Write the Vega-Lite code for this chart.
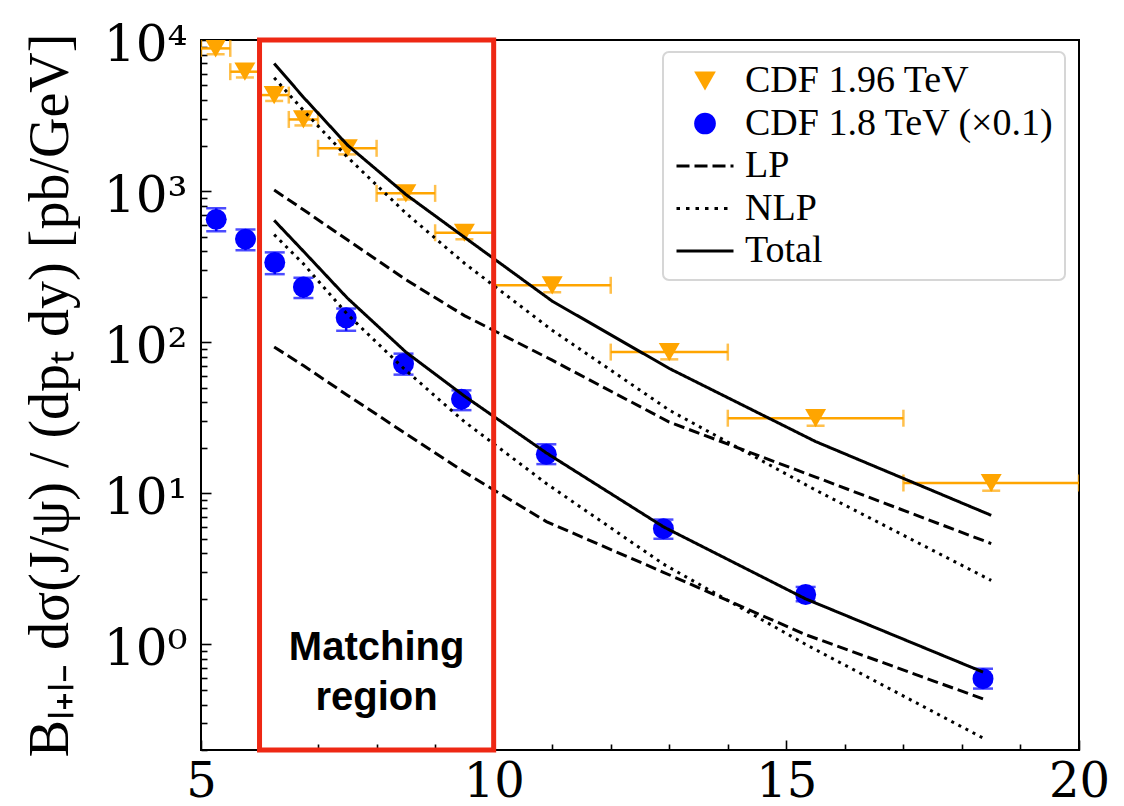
{
  "$schema": "https://vega.github.io/schema/vega-lite/v6.json",
  "width": 878,
  "height": 710,
  "autosize": {"type": "none"},
  "padding": {"left": 201, "top": 40, "right": 45, "bottom": 56},
  "background": "white",
  "config": {
    "view": {"stroke": "black", "strokeWidth": 2},
    "axis": {
      "domain": false,
      "grid": false,
      "labelFont": "DejaVu Serif",
      "labelFontSize": 50,
      "labelColor": "black",
      "labelFlush": false,
      "tickColor": "black",
      "tickWidth": 1.6,
      "titleFont": "Liberation Serif",
      "titleFontWeight": "normal",
      "titleColor": "black"
    },
    "legend": {"strokeWidth": 2}
  },
  "datasets": {
    "cdf196": [
      {"pt": 5.25, "lo": 5.0, "hi": 5.5, "v": 8800, "vlo": 8050, "vhi": 9550},
      {"pt": 5.75, "lo": 5.5, "hi": 6.0, "v": 6170, "vlo": 5650, "vhi": 6700},
      {"pt": 6.25, "lo": 6.0, "hi": 6.5, "v": 4320, "vlo": 3950, "vhi": 4700},
      {"pt": 6.75, "lo": 6.5, "hi": 7.0, "v": 2980, "vlo": 2720, "vhi": 3250},
      {"pt": 7.5, "lo": 7.0, "hi": 8.0, "v": 1920, "vlo": 1750, "vhi": 2100},
      {"pt": 8.5, "lo": 8.0, "hi": 9.0, "v": 966, "vlo": 880, "vhi": 1055},
      {"pt": 9.5, "lo": 9.0, "hi": 10.0, "v": 530, "vlo": 480, "vhi": 580},
      {"pt": 11.0, "lo": 10.0, "hi": 12.0, "v": 238, "vlo": 214, "vhi": 262},
      {"pt": 13.0, "lo": 12.0, "hi": 14.0, "v": 86, "vlo": 77, "vhi": 95},
      {"pt": 15.5, "lo": 14.0, "hi": 17.0, "v": 31.4, "vlo": 28, "vhi": 35},
      {"pt": 18.5, "lo": 17.0, "hi": 20.0, "v": 11.7, "vlo": 10.4, "vhi": 13.0}
    ],
    "cdf18": [
      {"pt": 5.26, "v": 650, "vlo": 543, "vhi": 769},
      {"pt": 5.76, "v": 481, "vlo": 406, "vhi": 557},
      {"pt": 6.26, "v": 337, "vlo": 282, "vhi": 393},
      {"pt": 6.75, "v": 232, "vlo": 196, "vhi": 267},
      {"pt": 7.48, "v": 145, "vlo": 119, "vhi": 167},
      {"pt": 8.46, "v": 72, "vlo": 61, "vhi": 84},
      {"pt": 9.45, "v": 42, "vlo": 35.5, "vhi": 48},
      {"pt": 10.9, "v": 18.1, "vlo": 15.6, "vhi": 21.1},
      {"pt": 12.9, "v": 5.83, "vlo": 5.0, "vhi": 6.7},
      {"pt": 15.33, "v": 2.14, "vlo": 1.93, "vhi": 2.4},
      {"pt": 18.36, "v": 0.593, "vlo": 0.51, "vhi": 0.69}
    ],
    "curves": [
      {"set": "1.96", "kind": "Total", "pt": 6.25, "v": 7000},
      {"set": "1.96", "kind": "Total", "pt": 6.75, "v": 4180},
      {"set": "1.96", "kind": "Total", "pt": 7.5, "v": 2020},
      {"set": "1.96", "kind": "Total", "pt": 8.5, "v": 950},
      {"set": "1.96", "kind": "Total", "pt": 9.5, "v": 495},
      {"set": "1.96", "kind": "Total", "pt": 11.0, "v": 187},
      {"set": "1.96", "kind": "Total", "pt": 13.0, "v": 67},
      {"set": "1.96", "kind": "Total", "pt": 15.5, "v": 22},
      {"set": "1.96", "kind": "Total", "pt": 18.5, "v": 7.15},
      {"set": "1.96", "kind": "NLP", "pt": 6.25, "v": 5620},
      {"set": "1.96", "kind": "NLP", "pt": 6.75, "v": 3420},
      {"set": "1.96", "kind": "NLP", "pt": 7.5, "v": 1680},
      {"set": "1.96", "kind": "NLP", "pt": 8.5, "v": 715},
      {"set": "1.96", "kind": "NLP", "pt": 9.5, "v": 333},
      {"set": "1.96", "kind": "NLP", "pt": 11.0, "v": 120},
      {"set": "1.96", "kind": "NLP", "pt": 13.0, "v": 35.5},
      {"set": "1.96", "kind": "NLP", "pt": 15.5, "v": 10.5},
      {"set": "1.96", "kind": "NLP", "pt": 18.5, "v": 2.65},
      {"set": "1.96", "kind": "LP", "pt": 6.25, "v": 1016},
      {"set": "1.96", "kind": "LP", "pt": 6.75, "v": 753},
      {"set": "1.96", "kind": "LP", "pt": 7.5, "v": 476},
      {"set": "1.96", "kind": "LP", "pt": 8.5, "v": 259},
      {"set": "1.96", "kind": "LP", "pt": 9.5, "v": 150},
      {"set": "1.96", "kind": "LP", "pt": 11.0, "v": 76},
      {"set": "1.96", "kind": "LP", "pt": 13.0, "v": 29.6},
      {"set": "1.96", "kind": "LP", "pt": 15.5, "v": 12.8},
      {"set": "1.96", "kind": "LP", "pt": 18.5, "v": 4.65},
      {"set": "1.8", "kind": "Total", "pt": 6.25, "v": 640},
      {"set": "1.8", "kind": "Total", "pt": 6.75, "v": 400},
      {"set": "1.8", "kind": "Total", "pt": 7.5, "v": 196},
      {"set": "1.8", "kind": "Total", "pt": 8.5, "v": 86},
      {"set": "1.8", "kind": "Total", "pt": 9.5, "v": 44},
      {"set": "1.8", "kind": "Total", "pt": 10.9, "v": 18.5},
      {"set": "1.8", "kind": "Total", "pt": 12.9, "v": 6.0},
      {"set": "1.8", "kind": "Total", "pt": 15.33, "v": 2.0},
      {"set": "1.8", "kind": "Total", "pt": 18.36, "v": 0.656},
      {"set": "1.8", "kind": "NLP", "pt": 6.25, "v": 515},
      {"set": "1.8", "kind": "NLP", "pt": 6.75, "v": 330},
      {"set": "1.8", "kind": "NLP", "pt": 7.5, "v": 153},
      {"set": "1.8", "kind": "NLP", "pt": 8.5, "v": 65},
      {"set": "1.8", "kind": "NLP", "pt": 9.5, "v": 29.8},
      {"set": "1.8", "kind": "NLP", "pt": 10.9, "v": 11.6},
      {"set": "1.8", "kind": "NLP", "pt": 12.9, "v": 3.4},
      {"set": "1.8", "kind": "NLP", "pt": 15.33, "v": 1.0},
      {"set": "1.8", "kind": "NLP", "pt": 18.36, "v": 0.24},
      {"set": "1.8", "kind": "LP", "pt": 6.25, "v": 93},
      {"set": "1.8", "kind": "LP", "pt": 6.75, "v": 70},
      {"set": "1.8", "kind": "LP", "pt": 7.5, "v": 44.6},
      {"set": "1.8", "kind": "LP", "pt": 8.5, "v": 24.8},
      {"set": "1.8", "kind": "LP", "pt": 9.5, "v": 13.8},
      {"set": "1.8", "kind": "LP", "pt": 10.9, "v": 6.5},
      {"set": "1.8", "kind": "LP", "pt": 12.9, "v": 3.0},
      {"set": "1.8", "kind": "LP", "pt": 15.33, "v": 1.16},
      {"set": "1.8", "kind": "LP", "pt": 18.36, "v": 0.436}
    ],
    "box": [{"x1": 6, "x2": 10, "y1": 0.2, "y2": 10000}],
    "note": [
      {"pt": 8, "v": 0.783, "t": "Matching"},
      {"pt": 8, "v": 0.366, "t": "region"}
    ]
  },
  "layer": [
    {
      "data": {"name": "cdf196"},
      "mark": {"type": "rule", "color": "#FFA500", "strokeWidth": 2.5, "clip": true},
      "encoding": {
        "x": {"field": "lo", "type": "quantitative", "scale": {"domain": [5, 20], "nice": false, "zero": false},
          "axis": {"orient": "bottom", "values": [5, 10, 15, 20], "tickSize": -10, "labelPadding": 18, "labelFontSize": 48, "title": null}},
        "x2": {"field": "hi"},
        "y": {"field": "v", "type": "quantitative", "scale": {"type": "log", "domain": [0.2, 10000], "nice": false},
          "axis": {
            "orient": "left",
            "values": [1, 10, 100, 1000, 10000],
            "tickSize": -10,
            "labelPadding": 24,
            "labelOffset": 5,
            "labelExpr": "'10' + ['⁰','¹','²','³','⁴'][round(log(datum.value)/LN10)]",
            "title": "Bₗ₊ₗ₋ dσ(J/ψ) / (dpₜ dy)  [pb/GeV]",
            "titleFontSize": 56,
            "titlePadding": 24
          }}
      }
    },
    {
      "data": {"name": "cdf196"},
      "mark": {"type": "tick", "orient": "vertical", "color": "#FFA500", "size": 17, "thickness": 2.5, "clip": true},
      "encoding": {
        "x": {"field": "lo", "type": "quantitative", "scale": {"domain": [5, 20], "nice": false, "zero": false},
          "axis": {"orient": "bottom", "values": [6, 7, 8, 9, 11, 12, 13, 14, 16, 17, 18, 19], "tickSize": -6, "labels": false, "title": null}},
        "y": {"field": "v", "type": "quantitative", "scale": {"type": "log", "domain": [0.2, 10000], "nice": false},
          "axis": {
            "orient": "left",
            "values": [0.2, 0.3, 0.4, 0.5, 0.6, 0.7, 0.8, 0.9, 2, 3, 4, 5, 6, 7, 8, 9, 20, 30, 40, 50, 60, 70, 80, 90, 200, 300, 400, 500, 600, 700, 800, 900, 2000, 3000, 4000, 5000, 6000, 7000, 8000, 9000],
            "tickSize": -6,
            "labels": false,
            "title": null
          }}
      }
    },
    {
      "data": {"name": "cdf196"},
      "mark": {"type": "tick", "orient": "vertical", "color": "#FFA500", "size": 17, "thickness": 2.5, "clip": true},
      "encoding": {
        "x": {"field": "hi", "type": "quantitative", "axis": null},
        "y": {"field": "v", "type": "quantitative", "axis": null}
      }
    },
    {
      "data": {"name": "cdf196"},
      "mark": {"type": "rule", "color": "#FFA500", "strokeWidth": 2.5, "clip": true},
      "encoding": {
        "x": {"field": "pt", "type": "quantitative", "axis": null},
        "y": {"field": "vlo", "type": "quantitative", "axis": null},
        "y2": {"field": "vhi"}
      }
    },
    {
      "data": {"name": "cdf196"},
      "mark": {"type": "tick", "orient": "horizontal", "color": "#FFA500", "size": 18, "thickness": 2.5, "clip": true},
      "encoding": {
        "x": {"field": "pt", "type": "quantitative", "axis": null},
        "y": {"field": "vlo", "type": "quantitative", "axis": null}
      }
    },
    {
      "data": {"name": "cdf196"},
      "mark": {"type": "point", "shape": "triangle-down", "filled": true, "color": "#FFA500", "opacity": 1, "size": 440, "clip": true},
      "encoding": {
        "x": {"field": "pt", "type": "quantitative", "axis": null},
        "y": {"field": "v", "type": "quantitative", "axis": null}
      }
    },
    {
      "data": {"name": "cdf18"},
      "mark": {"type": "rule", "color": "#0000FF", "strokeWidth": 2.5, "clip": true},
      "encoding": {
        "x": {"field": "pt", "type": "quantitative", "axis": null},
        "y": {"field": "vlo", "type": "quantitative", "axis": null},
        "y2": {"field": "vhi"}
      }
    },
    {
      "data": {"name": "cdf18"},
      "mark": {"type": "tick", "orient": "horizontal", "color": "#0000FF", "size": 20, "thickness": 2.5, "clip": true},
      "encoding": {
        "x": {"field": "pt", "type": "quantitative", "axis": null},
        "y": {"field": "vlo", "type": "quantitative", "axis": null}
      }
    },
    {
      "data": {"name": "cdf18"},
      "mark": {"type": "tick", "orient": "horizontal", "color": "#0000FF", "size": 20, "thickness": 2.5, "clip": true},
      "encoding": {
        "x": {"field": "pt", "type": "quantitative", "axis": null},
        "y": {"field": "vhi", "type": "quantitative", "axis": null}
      }
    },
    {
      "data": {"name": "cdf18"},
      "mark": {"type": "point", "shape": "circle", "filled": true, "color": "#0000FF", "opacity": 1, "size": 440, "clip": true},
      "encoding": {
        "x": {"field": "pt", "type": "quantitative", "axis": null},
        "y": {"field": "v", "type": "quantitative", "axis": null}
      }
    },
    {
      "data": {"name": "curves"},
      "mark": {"type": "line", "strokeWidth": 3, "clip": true},
      "encoding": {
        "x": {"field": "pt", "type": "quantitative", "axis": null},
        "y": {"field": "v", "type": "quantitative", "axis": null},
        "detail": {"field": "set"},
        "strokeDash": {"field": "kind", "type": "nominal",
          "scale": {"domain": ["LP", "NLP", "Total"], "range": [[11, 5], [3, 5], [1, 0]]},
          "legend": null},
        "color": {"field": "kind", "type": "nominal",
          "scale": {"domain": ["CDF 1.96 TeV", "CDF 1.8 TeV (×0.1)", "LP", "NLP", "Total"],
                    "range": ["#FFA500", "#0000FF", "black", "black", "black"]},
          "legend": {
            "title": null,
            "orient": "none",
            "legendX": 462,
            "legendY": 12,
            "padding": 10,
            "fillColor": "white",
            "strokeColor": "#d6d6d6",
            "cornerRadius": 6,
            "labelFont": "Liberation Serif",
            "labelFontSize": 38,
            "labelColor": "black",
            "labelLimit": 500,
            "labelOffset": 21,
            "symbolOffset": 13,
            "symbolSize": 3249,
            "symbolStrokeWidth": 3,
            "rowPadding": 4.5,
            "encode": {
              "symbols": {
                "update": {
                  "shape": {"signal": "datum.value === 'CDF 1.96 TeV' ? 'triangle-down' : datum.value === 'CDF 1.8 TeV (×0.1)' ? 'circle' : 'stroke'"},
                  "size": {"signal": "indexof(['LP','NLP','Total'], datum.value) >= 0 ? 3249 : 470"},
                  "fill": {"signal": "datum.value === 'CDF 1.96 TeV' ? '#FFA500' : datum.value === 'CDF 1.8 TeV (×0.1)' ? '#0000FF' : 'transparent'"},
                  "stroke": {"signal": "indexof(['LP','NLP','Total'], datum.value) >= 0 ? 'black' : 'transparent'"},
                  "strokeWidth": {"signal": "indexof(['LP','NLP','Total'], datum.value) >= 0 ? 3 : 0"},
                  "strokeDash": {"signal": "datum.value === 'LP' ? [13, 5] : datum.value === 'NLP' ? [3.5, 6] : [1, 0]"},
                  "opacity": {"value": 1}
                }
              }
            }
          }}
      }
    },
    {
      "data": {"name": "box"},
      "mark": {"type": "rect", "filled": false, "color": "#EE2814", "strokeWidth": 5},
      "encoding": {
        "x": {"field": "x1", "type": "quantitative", "axis": null},
        "x2": {"field": "x2"},
        "y": {"field": "y1", "type": "quantitative", "axis": null},
        "y2": {"field": "y2"}
      }
    },
    {
      "data": {"name": "note"},
      "mark": {"type": "text", "font": "Liberation Sans", "fontWeight": "bold", "fontSize": 40, "color": "black", "align": "center", "baseline": "alphabetic"},
      "encoding": {
        "x": {"field": "pt", "type": "quantitative", "axis": null},
        "y": {"field": "v", "type": "quantitative", "axis": null},
        "text": {"field": "t"}
      }
    }
  ],
  "resolve": {"axis": {"x": "independent", "y": "independent"}}
}
